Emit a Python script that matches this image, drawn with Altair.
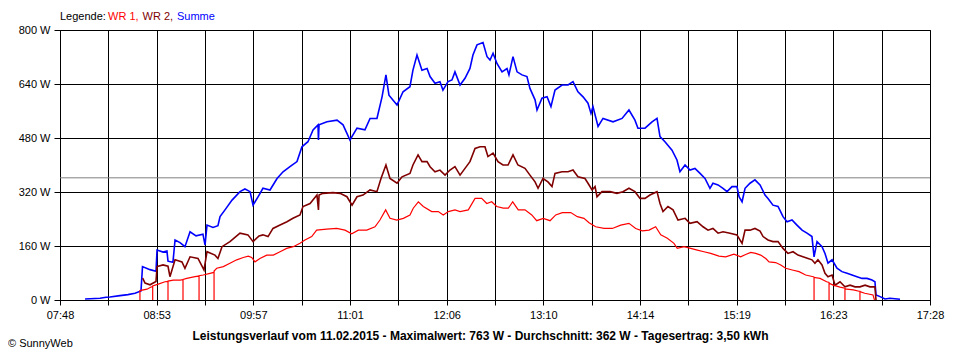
import altair as alt
import pandas as pd

# ---------------- data ----------------
T0 = 468.0            # 07:48 in minutes of the day
SPAN = 580.0          # 07:48 .. 17:28
tick_labels = ["07:48", "08:53", "09:57", "11:01", "12:06",
               "13:10", "14:14", "15:19", "16:23", "17:28"]
y_ticks = [0, 160, 320, 480, 640, 800]
average_w = 362

summe = [(484.7, 3), (494.7, 5), (498.7, 8), (501.3, 9), (508, 13), (513.3, 16), (518, 20), (522, 27),
         (523, 99), (528, 90), (532, 85), (532.7, 148), (536.7, 142), (539.3, 145), (540, 115), (543.3, 112),
         (544.7, 178), (548, 170), (551.3, 158), (554.7, 202), (558.7, 190), (563.3, 195), (564.7, 163),
         (566, 222), (570, 215), (573.3, 220), (574.7, 247), (578, 267), (582.7, 296), (588, 321),
         (591.3, 329), (594.7, 321), (596.7, 281), (600.7, 311), (603.3, 331), (608, 326), (612.7, 360),
         (616.7, 380), (621.3, 395), (626, 410), (629.3, 454), (633.3, 469), (636.7, 504), (640, 519),
         (640.3, 474), (640.7, 519), (646, 528), (652.7, 533), (656.7, 519), (661.3, 474), (666, 509),
         (671.3, 504), (674.7, 538), (679.3, 538), (682.7, 602), (685.3, 667), (687.3, 607), (692.7, 578),
         (696.7, 617), (701.3, 632), (703.3, 681), (706, 726), (709.3, 681), (712.7, 686), (714.7, 662),
         (718, 642), (721.3, 647), (723.3, 622), (726.7, 647), (729.3, 652), (731.3, 676), (734.7, 637),
         (738, 657), (741.3, 686), (743.3, 726), (746, 756), (750, 763), (752.7, 721), (754.7, 711),
         (756.7, 731), (759.3, 701), (762.7, 676), (766, 686), (767.3, 667), (770, 721), (772.7, 676),
         (776, 667), (779.3, 662), (781.3, 627), (784.7, 593), (786, 563), (789.3, 598), (792.7, 602),
         (795.3, 573), (798, 622), (802.7, 637), (806.7, 637), (810, 647), (813.3, 617), (816.7, 602),
         (820, 583), (822, 553), (823.3, 573), (826.7, 514), (830, 538), (836.7, 528), (842.7, 538),
         (847.3, 563), (851.3, 533), (853.3, 509), (858, 509), (862.7, 528), (866, 538), (868, 484),
         (871.3, 469), (876, 444), (879.3, 415), (881.3, 380), (884.7, 400), (888, 385), (891.3, 390),
         (894.7, 375), (898, 360), (901.3, 331), (903.3, 346), (906.7, 341), (910, 331), (912.7, 321),
         (916, 336), (919.3, 336), (920.7, 306), (922.7, 291), (924.7, 331), (928, 346), (931.3, 356),
         (934.7, 341), (938, 311), (940, 301), (943.3, 281), (946.7, 277), (950, 247), (952.7, 232),
         (956, 237), (959.3, 222), (962.7, 207), (966, 198), (969.3, 188), (970.7, 128), (972.7, 173),
         (976, 158), (978, 138), (980, 109), (982.7, 119), (986, 94), (989.3, 84), (992.7, 79), (996, 74),
         (999.3, 69), (1002.7, 64), (1006, 64), (1009.3, 59), (1011.3, 54), (1012, 15), (1014.7, 10),
         (1018, 3), (1021.3, 5), (1028, 2)]

wr2 = [(523.1, 65), (524.7, 50), (528, 45), (532, 55), (532.7, 99), (536.7, 104), (540, 100), (541.3, 69),
       (544.7, 119), (549.3, 113), (551.3, 94), (554.7, 128), (560, 123), (564, 89), (566, 143),
       (571.3, 133), (573.3, 123), (576, 158), (581.3, 173), (588, 198), (593.3, 193), (596.7, 173),
       (600.7, 190), (603.3, 193), (606.7, 188), (610, 212), (614.7, 222), (619.3, 232), (623.3, 242),
       (628, 252), (630, 277), (634.7, 286), (639.3, 311), (640.3, 267), (640.7, 311), (643.3, 316),
       (650, 318), (654.7, 316), (659.3, 306), (662.7, 281), (666, 306), (670, 311), (674.7, 326),
       (679.3, 321), (682, 360), (685.3, 400), (688, 360), (692.7, 346), (696, 365), (701.3, 375),
       (703.3, 400), (706.7, 430), (709.3, 410), (712.7, 410), (714.7, 395), (718, 380), (721.3, 385),
       (724.7, 370), (728, 385), (731.3, 395), (734.7, 370), (738, 390), (741.3, 410), (744.7, 449),
       (748, 454), (751.3, 454), (753.3, 425), (756.7, 435), (760, 410), (763.3, 400), (766.7, 400),
       (770, 430), (773.3, 400), (778, 390), (781.3, 370), (784.7, 350), (786.7, 331), (790, 360),
       (793.3, 350), (796, 336), (798, 375), (802.7, 380), (806.7, 380), (810, 385), (813.3, 365),
       (818, 360), (820, 346), (822.7, 326), (824.7, 336), (826, 306), (829.3, 321), (834.7, 321),
       (839.3, 316), (843.3, 321), (847.3, 331), (851.3, 321), (854.7, 301), (858, 301), (861.3, 311),
       (866, 321), (868, 286), (870, 262), (873.3, 277), (876.7, 267), (880, 237), (884.7, 242),
       (888, 227), (892.7, 232), (896.7, 217), (900, 207), (903.3, 212), (906.7, 198), (910, 202),
       (914.7, 198), (919.3, 193), (922.7, 168), (924.7, 207), (928, 207), (931.3, 212), (934.7, 204),
       (936.7, 188), (940, 178), (943.3, 173), (946.7, 173), (950, 153), (953.3, 138), (956.7, 143),
       (960, 133), (963.3, 128), (966.7, 123), (969.3, 119), (971.3, 109), (973.3, 119), (976, 104),
       (978, 79), (980, 69), (982.7, 74), (984.7, 44), (988, 54), (991.3, 39), (994.7, 44), (998, 39),
       (1001.3, 39), (1004.7, 44), (1008, 39), (1011.3, 39), (1012, 0)]

wr1 = [(521.3, 0), (521.3, 28), (526, 32), (529, 39), (529.8, 40), (529.8, 0), (529.8, 42), (533.5, 47),
       (538, 54), (540, 55), (540, 0), (540, 56), (543.5, 59), (548, 59), (550, 60), (550, 0), (550, 61),
       (552.5, 64), (558, 69), (560.7, 71), (560.7, 0), (560.7, 72), (563.5, 74), (568, 79), (570.7, 82),
       (570.7, 0), (570.7, 86), (572.5, 94), (576.9, 99), (581.3, 109), (585.8, 119), (590.2, 126),
       (593.5, 130), (595.8, 126), (598, 113), (601.3, 123), (605.8, 133), (610.2, 133), (614.7, 143),
       (619.1, 153), (623.5, 158), (628, 168), (631.3, 178), (635.8, 188), (639.1, 207), (645.8, 210),
       (652.5, 212), (658, 207), (662.5, 196), (666.9, 207), (672.5, 207), (678, 217), (681.3, 237),
       (685.1, 267), (688, 242), (692.5, 237), (696.9, 242), (701.3, 252), (703.5, 272), (706.9, 291),
       (710.2, 277), (715.8, 262), (720.2, 262), (723.5, 252), (726.9, 262), (731.3, 267), (734.7, 262),
       (740.2, 267), (744.7, 301), (749.1, 301), (752.5, 286), (755.8, 291), (759.1, 277), (763.5, 272),
       (766.9, 272), (769.8, 291), (773.5, 267), (778, 267), (782.5, 252), (785.8, 235), (790.2, 242),
       (794.7, 235), (798.5, 252), (802.9, 259), (808.5, 259), (812.9, 247), (817.3, 242), (820.7, 229),
       (825.1, 217), (830.7, 212), (836.2, 212), (841.8, 222), (847.3, 227), (851.8, 212), (856.2, 205),
       (860.7, 207), (865.1, 217), (868.5, 193), (872.9, 183), (877.3, 168), (879.5, 153), (884, 158),
       (888.5, 153), (892.9, 148), (897.3, 143), (901.8, 138), (907.3, 130), (911.8, 128), (917.3, 136),
       (921.8, 128), (925.1, 135), (928.5, 141), (931.8, 138), (935.1, 133), (938.5, 123), (940.7, 113),
       (945.1, 111), (948.5, 104), (951.8, 94), (956.2, 89), (960.7, 84), (965.1, 74), (970.2, 69),
       (970.7, 68), (970.7, 0), (970.7, 67), (974.7, 64), (979.1, 54), (980.7, 52), (980.7, 0),
       (980.7, 50), (983.5, 44), (988, 38), (991.3, 35), (991.3, 0), (991.3, 34), (992.5, 32),
       (996.9, 30), (1000.7, 26), (1001.3, 26), (1001.3, 0), (1001.3, 25), (1004.5, 20), (1010, 15),
       (1011, 0)]

series_names = ["Summe", "WR 2", "WR 1"]
series_colors = ["#0000FF", "#800000", "#FF0000"]
series_widths = [1.6, 1.6, 1.2]

# ---------------- tables ----------------
rows = []
for name, pts in zip(series_names, [summe, wr2, wr1]):
    for i, (t, w) in enumerate(pts):
        rows.append({"series": name, "t": t, "w": w, "i": i})
df = pd.DataFrame(rows)

step = SPAN / 18
tick_vals = [T0 + k * step for k in range(19)]
lab_arr = [tick_labels[k // 2] if k % 2 == 0 else "" for k in range(19)]
x_label_expr = "[" + ",".join("'%s'" % s for s in lab_arr) + "][round((datum.value - %s) / %s)]" % (T0, step)

FONT = "Liberation Sans"

x_scale = alt.Scale(domain=[T0, T0 + SPAN], nice=False, zero=False)
y_scale = alt.Scale(domain=[0, 800], nice=False)

x_axis = alt.Axis(values=tick_vals, labelExpr=x_label_expr, title=None, grid=True,
                  tickSize=5, labelPadding=4, labelFlush=False, labelOverlap=False)
y_axis = alt.Axis(values=y_ticks, labelExpr="datum.value + ' W'", title=None, grid=True,
                  tickSize=6, labelPadding=4)

avg = alt.Chart(pd.DataFrame({"w": [average_w]})).mark_rule(
    color="#808080", strokeWidth=1).encode(y=alt.Y("w:Q", scale=y_scale, axis=y_axis))

line_layers = []
for name, col, sw in zip(series_names, series_colors, series_widths):
    line_layers.append(
        alt.Chart(df[df.series == name]).mark_line(strokeWidth=sw, color=col).encode(
            x=alt.X("t:Q", scale=x_scale, axis=x_axis),
            y=alt.Y("w:Q", scale=y_scale, axis=y_axis),
            order=alt.Order("i:Q"))
    )


def txt(s, x, y, color="black", size=11, weight="normal", align="left"):
    return alt.Chart(pd.DataFrame({"s": [s]})).mark_text(
        align=align, baseline="alphabetic", font=FONT, fontSize=size, fontWeight=weight, color=color
    ).encode(text="s:N", x=alt.value(x), y=alt.value(y))


legend_parts = [
    txt("Legende:", 0, -10),
    txt("WR 1,", 48, -10, "#FF0000"),
    txt("WR 2,", 82.5, -10, "#800000"),
    txt("Summe", 117, -10, "#0000FF"),
]
caption = txt("Leistungsverlauf vom 11.02.2015 - Maximalwert: 763 W - Durchschnitt: 362 W - Tagesertrag: 3,50 kWh",
              420.5, 310, size=12, weight="bold", align="center")
copyright_ = txt("© SunnyWeb", -52, 317)

chart = alt.layer(avg, *line_layers, *legend_parts, caption, copyright_).properties(
    width=870, height=270,
    autosize=alt.AutoSizeParams(type="none"),
    padding={"left": 52, "top": 22, "right": 22, "bottom": 52},
    background="white",
).configure_axis(
    labelFont=FONT, labelFontSize=11, labelColor="black",
    domainColor="black", tickColor="black", gridColor="black", gridOpacity=1,
    domainWidth=1, tickWidth=1, gridWidth=1,
).configure_view(stroke="black", strokeWidth=1)

chart.save("out.html", embed_options={"renderer": "svg", "actions": False})
